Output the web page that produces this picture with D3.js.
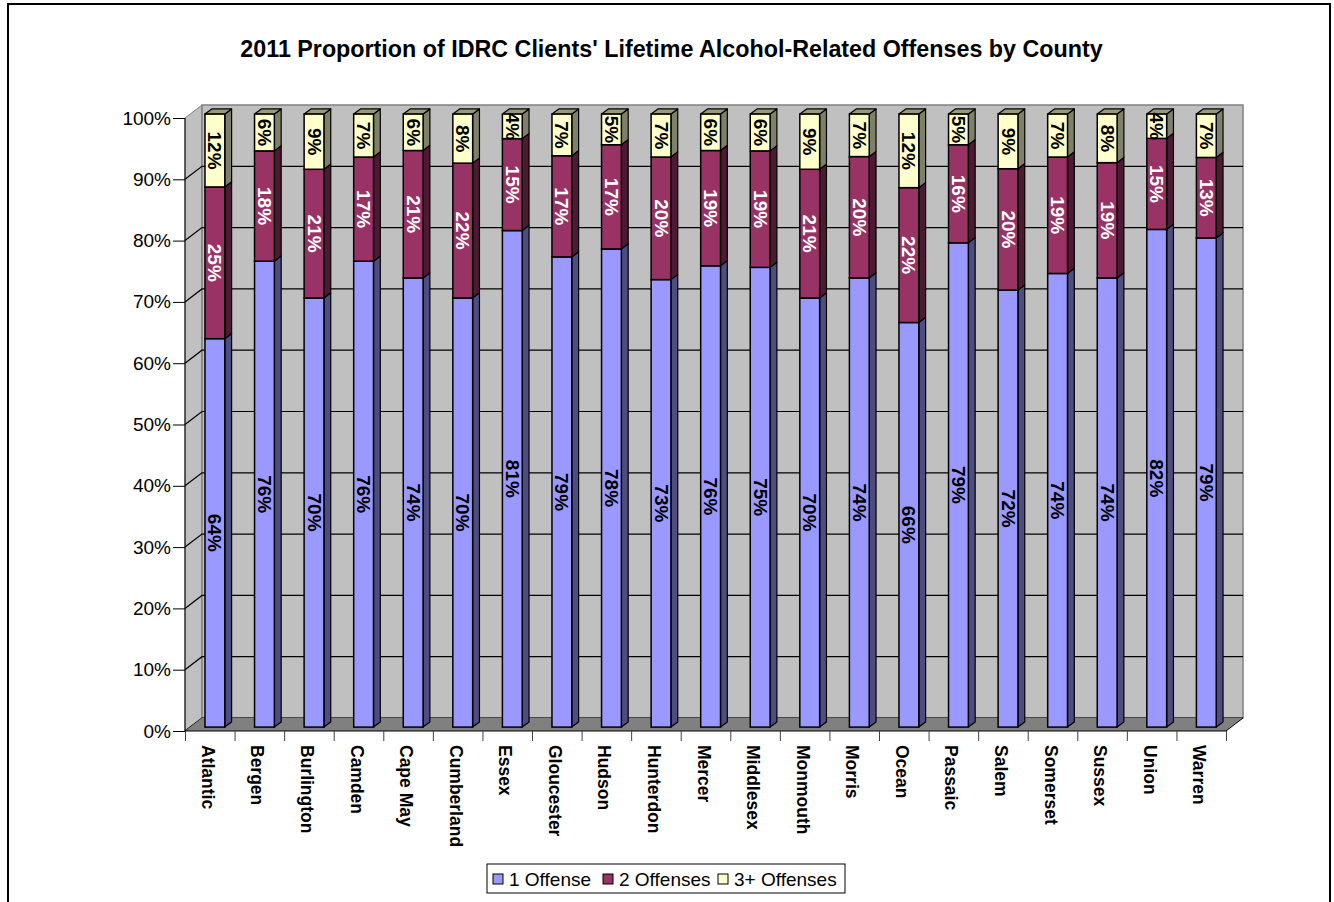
<!DOCTYPE html>
<html><head><meta charset="utf-8">
<script src="https://cdn.jsdelivr.net/npm/d3@7"></script>
<style>body{margin:0;background:#fff}svg{display:block}text{font-family:"Liberation Sans",Arial,sans-serif}</style>
</head><body><svg id="c" width="1334" height="902"></svg>
<script>
const title = "2011 Proportion of IDRC Clients' Lifetime Alcohol-Related Offenses by County";
const counties = ["Atlantic","Bergen","Burlington","Camden","Cape May","Cumberland","Essex","Gloucester","Hudson","Hunterdon","Mercer","Middlesex","Monmouth","Morris","Ocean","Passaic","Salem","Somerset","Sussex","Union","Warren"];
const seriesNames = ["1 Offense","2 Offenses","3+ Offenses"];
const offense1 = [64,76,70,76,74,70,81,79,78,73,76,75,70,74,66,79,72,74,74,82,79];
const offense2 = [25,18,21,17,21,22,15,17,17,20,19,19,21,20,22,16,20,19,19,15,13];
const offense3 = [12,6,9,7,6,8,4,7,5,7,6,6,9,7,12,5,9,7,8,4,7];
const yTicks = [0,0.1,0.2,0.3,0.4,0.5,0.6,0.7,0.8,0.9,1];

const fills = ["#9999FF","#993366","#FFFFCC"];
const sides = ["#4D4D80","#4D1A33","#80806A"];
const tops  = ["#7A7ACC","#7A2952","#99997A"];
const labelColors = ["#000","#fff","#000"];

const svg = d3.select("#c");
const X0 = 185, X1 = 1226, YB = 731, YT = 118, DX = 17, DY = 13;
const d0 = 0.3, d1 = 0.7;

// outer border
svg.append("rect").attr("x",8).attr("y",4).attr("width",1322).attr("height",920)
  .attr("fill","#fff").attr("stroke","#000").attr("stroke-width",2);

// title
const t = svg.append("text").attr("x",671.5).attr("y",57).attr("text-anchor","middle")
  .attr("font-weight","bold").attr("font-size",20).text(title);
const tw = t.node().getComputedTextLength();
t.attr("font-size", 20*863/tw);

const y = d3.scaleLinear().domain([0,1]).range([YB,YT]);
const xb = d3.scaleBand().domain(counties).range([X0,X1]).padding(0);
const xi = d3.scaleLinear().domain([0,counties.length]).range([X0,X1]);
const P = (x,v,d)=>[x + d*DX, y(v) - d*DY];

// walls
const g = svg.append("g");
g.append("polygon").attr("points",[P(X0,0,0),P(X0,1,0),P(X0,1,1),P(X0,0,1)].join(" "))
  .attr("fill","#C0C0C0").attr("stroke","#808080").attr("stroke-width",1);
g.append("polygon").attr("points",[P(X0,0,1),P(X0,1,1),P(X1,1,1),P(X1,0,1)].join(" "))
  .attr("fill","#C0C0C0").attr("stroke","#808080").attr("stroke-width",1.5);
// gridlines
yTicks.forEach(v=>{
  if(v===1) return;
  const a=P(X0,v,0), b=P(X0,v,1), c=P(X1,v,1);
  g.append("polyline").attr("points",[a,b,c].join(" ")).attr("fill","none")
   .attr("stroke","#000").attr("stroke-width",1.2);
});
// floor
g.append("polygon").attr("points",[P(X0,0,0),P(X0,0,1),P(X1,0,1),P(X1,0,0)].join(" "))
  .attr("fill","#808080").attr("stroke","none");
g.append("line").attr("x1",P(X1,0,0)[0]).attr("y1",P(X1,0,0)[1]).attr("x2",P(X1,0,1)[0]).attr("y2",P(X1,0,1)[1])
  .attr("stroke","#000").attr("stroke-width",1);

// data stack
const rows = counties.map((c,i)=>({county:c, s0:offense1[i], s1:offense2[i], s2:offense3[i]}));
const stack = d3.stack().keys(["s0","s1","s2"]).offset(d3.stackOffsetExpand);
const layers = stack(rows);

const bw = xb.bandwidth()*0.4;
const bars = svg.append("g");
const labels = svg.append("g");
counties.forEach((c,i)=>{
  const cx = xb(c) + xb.bandwidth()/2;
  const xl = cx - bw/2, xr = cx + bw/2;
  layers.forEach((L,k)=>{
    const v0 = L[i][0], v1 = L[i][1];
    const fl = P(xl,v1,d0), fr0 = P(xr,v0,d0), fr1 = P(xr,v1,d0);
    const br0 = P(xr,v0,d1), br1 = P(xr,v1,d1), bl1 = P(xl,v1,d1);
    bars.append("polygon").attr("points",[fr1,br1,br0,fr0].join(" "))
      .attr("fill",sides[k]).attr("stroke","#000").attr("stroke-width",1.2).attr("stroke-linejoin","round");
    if(k===layers.length-1){
      bars.append("polygon").attr("points",[fl,bl1,br1,fr1].join(" "))
        .attr("fill",tops[k]).attr("stroke","#000").attr("stroke-width",1.2).attr("stroke-linejoin","round");
    }
    bars.append("rect").attr("x",fl[0]).attr("y",fl[1]).attr("width",bw).attr("height",fr0[1]-fr1[1])
      .attr("fill",fills[k]).attr("stroke","#000").attr("stroke-width",1.5);
    const raw = [offense1,offense2,offense3][k][i];
    const lx = cx + d0*DX, ly = (fr0[1]+fr1[1])/2;
    labels.append("text").attr("transform",`translate(${lx},${ly}) rotate(90)`)
      .attr("text-anchor","middle").attr("dominant-baseline","central")
      .attr("font-weight","bold").attr("font-size",19).attr("fill",labelColors[k])
      .text(raw+"%");
  });
});

// y axis
const ya = svg.append("g").attr("transform",`translate(${X0},0)`)
  .call(d3.axisLeft(y).tickValues(yTicks).tickFormat(d3.format(".0%")).tickSize(12).tickPadding(2));
ya.select(".domain").attr("stroke","#000").attr("d",`M0,${YT}V${YB}`);
ya.selectAll(".tick line").attr("stroke","#000");
ya.selectAll(".tick text").attr("font-size",19).attr("font-family","Liberation Sans, Arial, sans-serif").attr("fill","#000");

// x axis
const xa = svg.append("g").attr("transform",`translate(0,${YB})`)
  .call(d3.axisBottom(xi).tickValues(d3.range(0,counties.length+1)).tickSize(10).tickFormat(""));
xa.select(".domain").attr("stroke","#000").attr("d",`M${X0},0H${X1}`);
xa.selectAll(".tick line").attr("stroke","#404040");

// category labels
svg.append("g").selectAll("text").data(counties).join("text")
  .attr("transform",d=>`translate(${xb(d)+xb.bandwidth()/2-2},745) rotate(90)`)
  .attr("text-anchor","start").attr("dominant-baseline","central")
  .attr("font-weight","bold").attr("font-size",17.5).text(d=>d);

// legend
const lg = svg.append("g");
lg.append("rect").attr("x",487).attr("y",864).attr("width",358).attr("height",29)
  .attr("fill","#fff").attr("stroke","#000").attr("stroke-width",1);
const lx = [493,603,718];
seriesNames.forEach((n,k)=>{
  lg.append("rect").attr("x",lx[k]).attr("y",874).attr("width",10).attr("height",10)
    .attr("fill",fills[k]).attr("stroke","#000").attr("stroke-width",1);
  lg.append("text").attr("x",lx[k]+16).attr("y",886).attr("font-size",19).text(n);
});
</script></body></html>
